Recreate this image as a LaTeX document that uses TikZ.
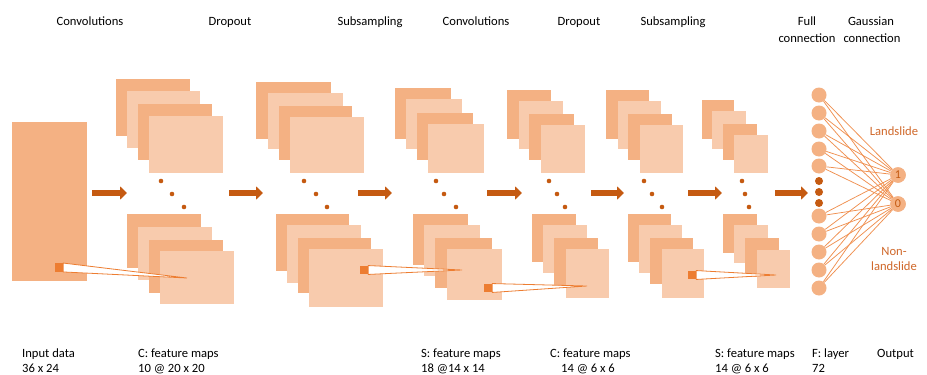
\documentclass[tikz,border=0pt]{standalone}
\usepackage{fontspec}
\setmainfont{Carlito}
\usetikzlibrary{arrows.meta}
\definecolor{mapdark}{HTML}{F4B183}
\definecolor{maplight}{HTML}{F8CBAD}
\definecolor{accent}{HTML}{ED7D31}
\definecolor{deep}{HTML}{C55A11}
\definecolor{classtext}{HTML}{D0682A}
% feature map: name, colour, x1, y1, x2, y2 (pixel-style coordinates)
\newcommand\fmap[6]{\node[mapbox,fill=#2,minimum width={(#5-#3)*1pt},minimum height={(#6-#4)*1pt},anchor=north west] (#1) at (#3,#4) {};}
\begin{document}
\begin{tikzpicture}[x=1pt,y=-1pt,
  mapbox/.style={rectangle,inner sep=0pt,outer sep=0pt,draw=none},
  kernel/.style={rectangle,fill=accent,inner sep=0pt,minimum width=8pt,minimum height=8.5pt},
  rfield/.style={fill=white,draw=accent,line width=0.8pt,line join=miter},
  dotmark/.style={circle,fill=deep,inner sep=0pt,minimum size=4.6pt},
  flow/.style={draw=deep,line width=5.4pt,-{Triangle[length=7pt,width=13pt]}},
  neuron/.style={circle,fill=mapdark,inner sep=0pt,minimum size=15pt},
  smalln/.style={circle,fill=deep,inner sep=0pt,minimum size=8pt},
  outn/.style={circle,fill=mapdark,inner sep=0pt,minimum size=15.5pt,text=deep,font=\fontsize{12}{13}\selectfont},
  wire/.style={draw=accent!85,line width=0.75pt},
  toplabel/.style={font=\fontsize{12.6}{15}\selectfont,anchor=base,inner sep=0pt},
  botlabel/.style={font=\fontsize{12.6}{15}\selectfont,anchor=base west,inner sep=0pt},
  classlabel/.style={font=\fontsize{12.6}{15}\selectfont,text=classtext,inner sep=0pt,align=center}
]
\useasboundingbox (0,0) rectangle (927,375);
\fill[white] (0,0) rectangle (927,375);

% input data
\node[mapbox,fill=mapdark,minimum width=75pt,minimum height=159pt,anchor=north west] (input) at (12,122) {};

% stage 1: convolutions
\fmap{gat1}{mapdark}{116}{79}{190}{136}
\fmap{gat2}{maplight}{127}{91}{200}{148}
\fmap{gat3}{mapdark}{138}{104}{212}{160}
\fmap{gat4}{maplight}{149}{116}{223}{173}
\fmap{gab1}{mapdark}{127}{214}{201}{268}
\fmap{gab2}{maplight}{138}{227}{212}{280}
\fmap{gab3}{mapdark}{149}{240}{223}{293}
\fmap{gab4}{maplight}{160}{251}{234}{304}
% stage 2: dropout
\fmap{gbt1}{mapdark}{256}{82}{331}{139}
\fmap{gbt2}{maplight}{268}{93}{343}{149}
\fmap{gbt3}{mapdark}{279}{106}{352}{160}
\fmap{gbt4}{maplight}{290}{117}{364}{173}
\fmap{gbb1}{mapdark}{276}{214}{349}{271}
\fmap{gbb2}{maplight}{287}{225}{361}{283}
\fmap{gbb3}{mapdark}{298}{238}{371}{293}
\fmap{gbb4}{maplight}{309}{249}{383}{307}
% stage 3: subsampling
\fmap{gct1}{mapdark}{395}{88}{451}{139}
\fmap{gct2}{maplight}{406}{99}{462}{149}
\fmap{gct3}{mapdark}{417}{113}{473}{160}
\fmap{gct4}{maplight}{428}{124}{484}{173}
\fmap{gcb1}{mapdark}{413}{214}{468}{265}
\fmap{gcb2}{maplight}{424}{225}{480}{276}
\fmap{gcb3}{mapdark}{435}{238}{492}{288}
\fmap{gcb4}{maplight}{447}{249}{502}{300}
% stage 4: convolutions
\fmap{gdt1}{mapdark}{507}{90}{551}{139}
\fmap{gdt2}{maplight}{519}{101}{563}{149}
\fmap{gdt3}{mapdark}{529}{114}{574}{160}
\fmap{gdt4}{maplight}{541}{125}{585}{173}
\fmap{gdb1}{mapdark}{532}{214}{576}{262}
\fmap{gdb2}{maplight}{543}{225}{587}{273}
\fmap{gdb3}{mapdark}{554}{238}{598}{287}
\fmap{gdb4}{maplight}{566}{249}{609}{298}
% stage 5: dropout
\fmap{get1}{mapdark}{606}{90}{649}{139}
\fmap{get2}{maplight}{618}{101}{661}{149}
\fmap{get3}{mapdark}{628}{114}{672}{160}
\fmap{get4}{maplight}{640}{125}{683}{173}
\fmap{geb1}{mapdark}{628}{214}{671}{262}
\fmap{geb2}{maplight}{639}{225}{682}{273}
\fmap{geb3}{mapdark}{650}{238}{693}{284}
\fmap{geb4}{maplight}{662}{249}{704}{298}
% stage 6: subsampling
\fmap{gft1}{mapdark}{702}{100}{734}{139}
\fmap{gft2}{maplight}{712}{111}{746}{149}
\fmap{gft3}{mapdark}{723}{124}{757}{160}
\fmap{gft4}{maplight}{734}{135}{768}{173}
\fmap{gfb1}{mapdark}{723}{214}{757}{253}
\fmap{gfb2}{maplight}{734}{225}{768}{263}
\fmap{gfb3}{mapdark}{745}{238}{779}{277}
\fmap{gfb4}{maplight}{757}{250}{790}{288}

% ellipsis dots between the two stacks of each stage
\foreach \nm/\xa/\xb/\xc in {a/161/172/184, b/304/316/327, c/436/444/456, d/549/557/565, e/644/652/662, f/742/745/749} {
  \node[dotmark] (dots\nm1) at (\xa,181) {};
  \node[dotmark] (dots\nm2) at (\xb,194) {};
  \node[dotmark] (dots\nm3) at (\xc,207) {};
}

% receptive fields
\node[kernel] (k1) at (59,267.5) {};
\coordinate (k1tip) at (187,278);
\node[kernel] (k2) at (364,270) {};
\coordinate (k2tip) at (462,270);
\node[kernel] (k3) at (488,288) {};
\coordinate (k3tip) at (587,286);
\node[kernel] (k4) at (692,275) {};
\coordinate (k4tip) at (776,275);
\foreach \k in {1,2,3,4} {
  \path[rfield] (k\k.north east) -- (k\k tip) -- (k\k.south east) -- cycle;
  \node[kernel] at (k\k) {};
}

% flow arrows between stages
\foreach \nm/\xs/\xe in {1/92/127, 2/229/263, 3/358/392, 4/487/522, 5/591/624, 6/688/722, 7/775/808} {
  \coordinate (f\nm s) at (\xs,193);
  \coordinate (f\nm e) at (\xe,193);
  \draw[flow] (f\nm s) -- (f\nm e);
}

% fully connected layer
\foreach \i/\yy in {1/95, 2/113, 3/131, 4/149, 5/166, 6/216, 7/234, 8/252, 9/270, 10/288}
  \node[neuron] (n\i) at (819,\yy) {};
\node[smalln] (m1) at (819,181) {};
\node[smalln] (m2) at (819,192) {};
\node[smalln] (m3) at (819,203) {};

% output units
\node[outn] (o1) at (898,175) {1};
\node[outn] (o0) at (898,204) {0};
\foreach \i in {1,...,10} {
  \draw[wire] (n\i) -- (o1);
  \draw[wire] (n\i) -- (o0);
}
\node[outn] at (o1) {1};
\node[outn] at (o0) {0};

\node[classlabel] (lland) at (894,131) {Landslide};
\node[classlabel] (lnon) at (894,259) {Non-\\landslide};

% stage captions
\node[toplabel] (t1) at (90,25) {Convolutions};
\node[toplabel] (t2) at (230,25) {Dropout};
\node[toplabel] (t3) at (370,25) {Subsampling};
\node[toplabel] (t4) at (476,25) {Convolutions};
\node[toplabel] (t5) at (579,25) {Dropout};
\node[toplabel] (t6) at (673,25) {Subsampling};
\node[toplabel] (t7a) at (807,25) {Full};
\node[toplabel] (t7b) at (807,42) {connection};
\node[toplabel] (t8a) at (871,25) {Gaussian};
\node[toplabel] (t8b) at (872,42) {connection};

% layer sizes
\node[botlabel] (b1a) at (22,357) {Input data};
\node[botlabel] (b1b) at (22,372) {36 x 24};
\node[botlabel] (b2a) at (138,357) {C: feature maps};
\node[botlabel] (b2b) at (138,372) {10 @ 20 x 20};
\node[botlabel] (b3a) at (421,357) {S: feature maps};
\node[botlabel] (b3b) at (421,372) {18 @14 x 14};
\node[botlabel] (b4a) at (550,357) {C: feature maps};
\node[botlabel] (b4b) at (561,372) {14 @ 6 x 6};
\node[botlabel] (b5a) at (715,357) {S: feature maps};
\node[botlabel] (b5b) at (715,372) {14 @ 6 x 6};
\node[botlabel] (b6a) at (812,357) {F: layer};
\node[botlabel] (b6b) at (812,372) {72};
\node[botlabel] (b7a) at (877,357) {Output};
\end{tikzpicture}
\end{document}
